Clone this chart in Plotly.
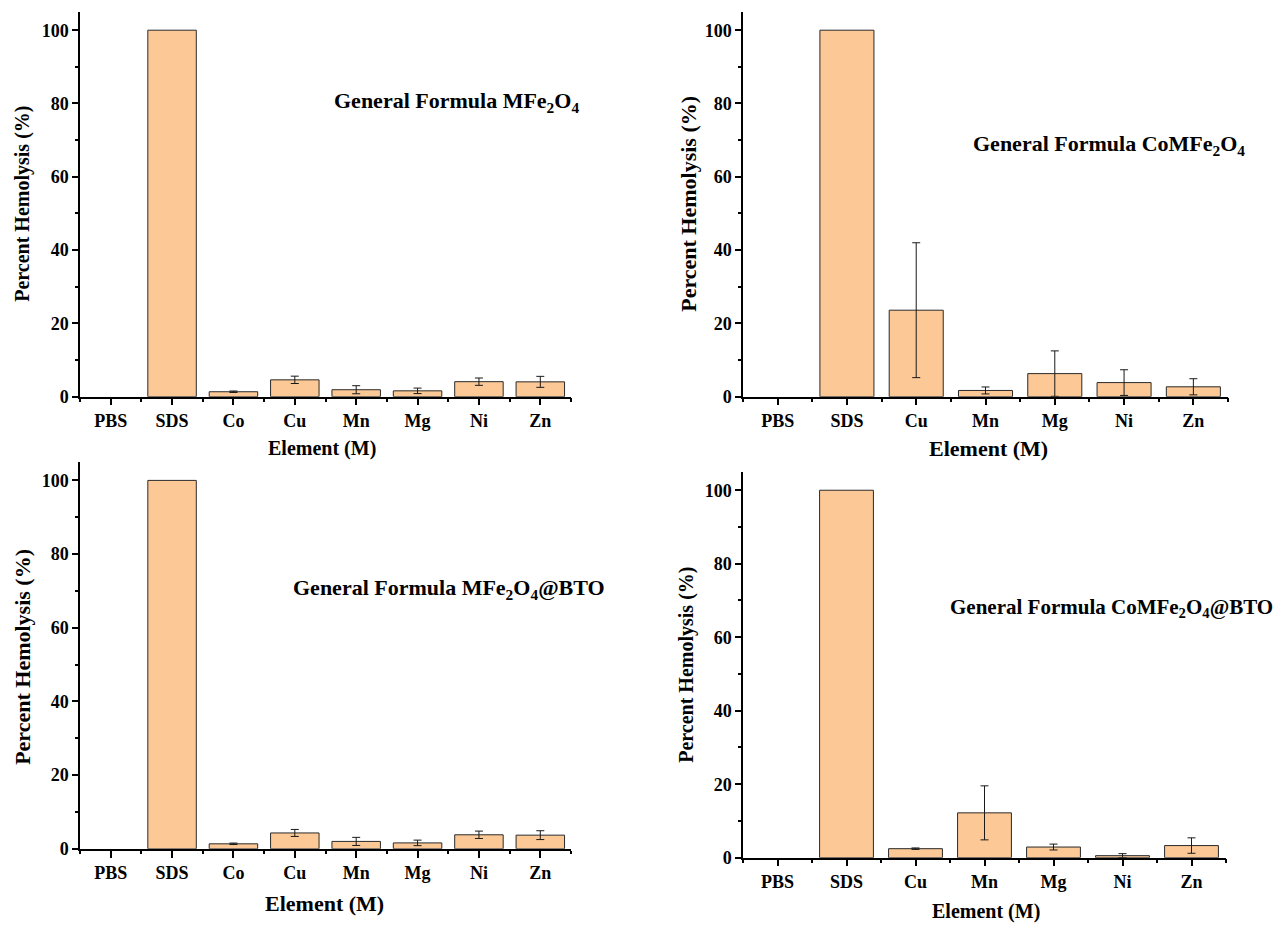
import plotly.graph_objects as go

# ---------------- data ----------------
cats1 = ["PBS", "SDS", "Co", "Cu", "Mn", "Mg", "Ni", "Zn"]
vals1 = [0, 100, 1.35, 4.6, 1.9, 1.6, 4.1, 4.05]
errs1 = [None, None, 0.2, 1.0, 1.1, 0.75, 1.0, 1.5]

cats2 = ["PBS", "SDS", "Cu", "Mn", "Mg", "Ni", "Zn"]
vals2 = [0, 100, 23.6, 1.7, 6.3, 3.85, 2.7]
errs2 = [None, None, 18.4, 0.95, 6.2, 3.5, 2.2]

cats3 = ["PBS", "SDS", "Co", "Cu", "Mn", "Mg", "Ni", "Zn"]
vals3 = [0, 100, 1.35, 4.3, 2.0, 1.6, 3.8, 3.7]
errs3 = [None, None, 0.2, 0.95, 1.1, 0.75, 1.0, 1.2]

cats4 = ["PBS", "SDS", "Cu", "Mn", "Mg", "Ni", "Zn"]
vals4 = [0, 100, 2.45, 12.2, 2.9, 0.55, 3.3]
errs4 = [None, None, 0.2, 7.35, 0.8, 0.55, 2.1]

titles = [
    "General Formula MFe<sub>2</sub>O<sub>4</sub>",
    "General Formula CoMFe<sub>2</sub>O<sub>4</sub>",
    "General Formula MFe<sub>2</sub>O<sub>4</sub>@BTO",
    "General Formula CoMFe<sub>2</sub>O<sub>4</sub>@BTO",
]
y_title = "Percent Hemolysis (%)"
x_title = "Element (M)"

# ---------------- style ----------------
W, H = 1286, 931
FONT = "Times New Roman, Liberation Serif, serif"
FILL = "#FCC896"
EDGE = "#2a2a2a"

panels = [
    dict(cats=cats1, vals=vals1, errs=errs1, px=(80, 571), py=(12, 401), bw=0.79,
         title=titles[0], tpos=(332, 103), tsize=22,
         ylab=(23, 206, 20), xlab=(322, 453, 20)),
    dict(cats=cats2, vals=vals2, errs=errs2, px=(743, 1228), py=(12, 401), bw=0.78,
         title=titles[1], tpos=(971, 147), tsize=22,
         ylab=(689, 206, 22), xlab=(988, 453, 22)),
    dict(cats=cats3, vals=vals3, errs=errs3, px=(80, 571), py=(467, 858), bw=0.79,
         title=titles[2], tpos=(291, 595), tsize=22,
         ylab=(23, 664, 22), xlab=(324, 913, 22)),
    dict(cats=cats4, vals=vals4, errs=errs4, px=(743, 1226), py=(477, 867), bw=0.78,
         title=titles[3], tpos=(948, 615), tsize=21,
         ylab=(687, 672, 20), xlab=(986, 921, 20)),
]

fig = go.Figure()
layout = dict(
    width=W, height=H,
    margin=dict(l=0, r=0, t=0, b=0),
    paper_bgcolor="white", plot_bgcolor="white",
    showlegend=False,
    font=dict(family=FONT, color="black"),
    annotations=[],
)

for i, p in enumerate(panels, start=1):
    sfx = "" if i == 1 else str(i)
    n = len(p["cats"])
    xs = list(range(n))
    fig.add_trace(go.Bar(
        x=xs, y=p["vals"], width=p["bw"],
        marker=dict(color=FILL,
                    line=dict(color=EDGE, width=[0 if v == 0 else 1 for v in p["vals"]])),
        xaxis="x" + sfx, yaxis="y" + sfx,
        hovertext=p["cats"],
    ))
    # error bars only where a value exists
    ex = [x for x, e in zip(xs, p["errs"]) if e is not None]
    ey = [v for v, e in zip(p["vals"], p["errs"]) if e is not None]
    ee = [e for e in p["errs"] if e is not None]
    fig.add_trace(go.Scatter(
        x=ex, y=ey, mode="markers",
        marker=dict(size=1, color="rgba(0,0,0,0)"),
        error_y=dict(type="data", array=ee, visible=True,
                     color="#1a1a1a", thickness=1, width=4),
        xaxis="x" + sfx, yaxis="y" + sfx, hoverinfo="skip",
    ))
    x0, x1 = p["px"]
    ytop, ybot = p["py"]
    layout["xaxis" + sfx] = dict(
        domain=[x0 / W, x1 / W], anchor="y" + sfx,
        range=[-0.5, n - 0.5],
        tickmode="array", tickvals=xs, ticktext=p["cats"],
        ticks="outside", ticklen=7, tickwidth=1.5, tickcolor="black",
        minor=dict(tickmode="array", tickvals=[k - 0.5 for k in range(n + 1)],
                   ticks="outside", ticklen=3.5, tickwidth=1.5, tickcolor="black"),
        showline=True, linecolor="black", linewidth=1.5,
        showgrid=False, zeroline=False,
        tickfont=dict(family=FONT, size=18, weight="bold", color="black"),
        fixedrange=True,
    )
    layout["yaxis" + sfx] = dict(
        domain=[1 - ybot / H, 1 - ytop / H], anchor="x" + sfx,
        range=[0, 105],
        tickmode="linear", tick0=0, dtick=20,
        ticks="outside", ticklen=6, tickwidth=1.5, tickcolor="black",
        minor=dict(tick0=10, dtick=20, ticks="outside", ticklen=3.5,
                   tickwidth=1.5, tickcolor="black"),
        showline=True, linecolor="black", linewidth=1.5,
        showgrid=False, zeroline=False,
        tickfont=dict(family=FONT, size=18, weight="bold", color="black"),
        fixedrange=True,
    )
    tx, ty = p["tpos"]
    layout["annotations"].append(dict(
        text="<b>" + p["title"] + "</b>", xref="paper", yref="paper",
        x=tx / W, y=1 - ty / H, xanchor="left", yanchor="middle",
        showarrow=False,
        font=dict(family=FONT, size=p["tsize"], color="black"),
    ))
    lx, ly, ls = p["ylab"]
    layout["annotations"].append(dict(
        text="<b>" + y_title + "</b>", xref="paper", yref="paper",
        x=lx / W, y=1 - ly / H, xanchor="center", yanchor="middle",
        textangle=-90, showarrow=False,
        font=dict(family=FONT, size=ls, color="black"),
    ))
    lx, ly, ls = p["xlab"]
    layout["annotations"].append(dict(
        text="<b>" + x_title + "</b>", xref="paper", yref="paper",
        x=lx / W, y=1 - ly / H, xanchor="center", yanchor="middle",
        showarrow=False,
        font=dict(family=FONT, size=ls, color="black"),
    ))

fig.update_layout(**layout)
fig.write_html("out.html", config={"displayModeBar": False},
               post_script="document.body.style.margin='0';")
